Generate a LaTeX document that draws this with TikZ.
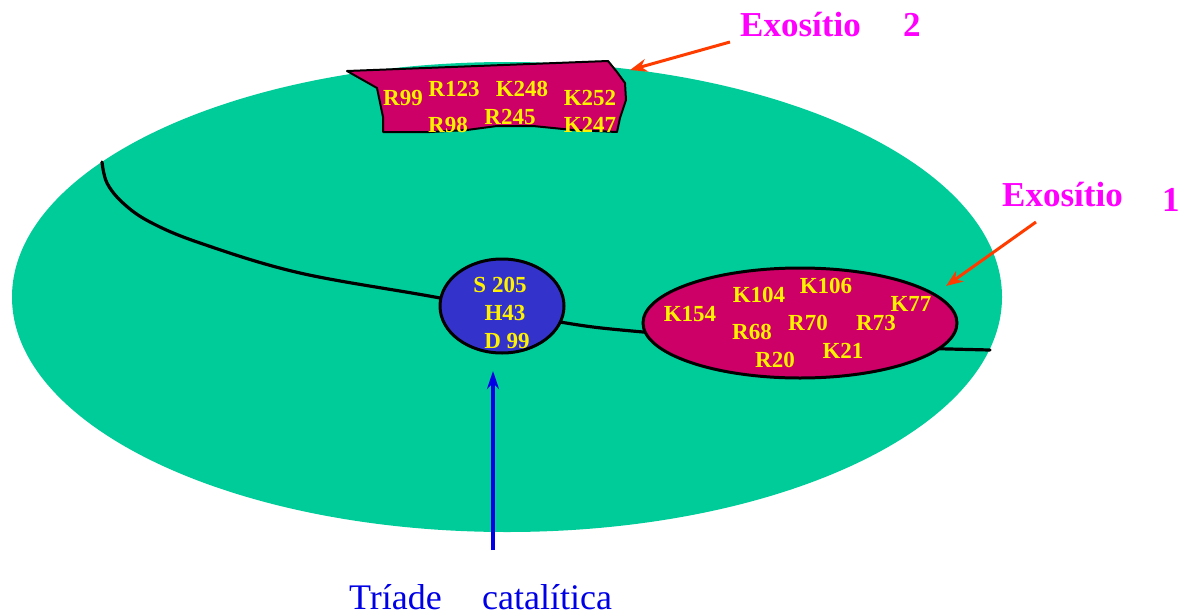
\documentclass[tikz,border=0pt]{standalone}
\usepackage{fontspec}
\setmainfont{Liberation Serif}
\usetikzlibrary{arrows.meta,shapes.geometric}
\definecolor{protein}{RGB}{0,204,153}
\definecolor{siteRed}{RGB}{204,0,102}
\definecolor{triadBlue}{RGB}{51,51,204}
\definecolor{labelMagenta}{RGB}{255,0,255}
\definecolor{pointerRed}{RGB}{255,60,0}
\definecolor{captionBlue}{RGB}{0,0,230}
\tikzset{
  residue/.style={text=yellow, font=\bfseries\fontsize{23}{23}\selectfont, inner sep=0pt},
  sitelabel/.style={text=labelMagenta, font=\bfseries\fontsize{35}{35}\selectfont, inner sep=0pt, anchor=base west},
  caption/.style={text=captionBlue, font=\fontsize{36}{36}\selectfont, inner sep=0pt, anchor=base west},
  outline/.style={draw=black, line width=3pt},
  pointer/.style={draw=pointerRed, line width=3pt, -{Stealth[length=17pt,width=13pt]}},
  triadarrow/.style={draw=captionBlue, line width=4pt, -{Stealth[length=18pt,width=12pt]}},
}
\begin{document}
\begin{tikzpicture}[x=1pt,y=-1pt]
\useasboundingbox (0,0) rectangle (1192,616);

% protein body
\fill[protein] (507,297) ellipse [x radius=495, y radius=235];

% backbone chain running through the molecule
\coordinate (c0) at (102,162);
\coordinate (c1) at (107,183);
\coordinate (c2) at (123,203);
\coordinate (c3) at (150,222);
\coordinate (c4) at (200,243);
\coordinate (c5) at (300,273);
\coordinate (c6) at (440,298);
\coordinate (c7) at (560,322);
\coordinate (c8) at (643,332);
\coordinate (c9) at (800,344);
\coordinate (c10) at (990,350);
\draw[black, line width=3.2pt, line cap=round]
  plot[smooth, tension=0.6] coordinates {(c0) (c1) (c2) (c3) (c4) (c5) (c6) (c7) (c8) (c9) (c10)};

% exosite 2 patch
\filldraw[fill=siteRed, draw=black, line width=2pt, line join=round]
  (347,71) -- (608,61) -- (617,72) -- (625,83) -- (626,100) -- (620,118) -- (617,132)
  -- (573,130) -- (533,126) -- (497,126) -- (467,130) -- (430,132) -- (383,132)
  -- (383,117) -- (377,88) -- cycle;

% catalytic triad and exosite 1
\node[outline, fill=triadBlue, ellipse, minimum width=124pt, minimum height=94pt, inner sep=0pt] (triad) at (502,306) {};
\node[outline, fill=siteRed, ellipse, minimum width=314pt, minimum height=110pt, inner sep=0pt] (exo1) at (800,323) {};

% exosite 2 residues
\node[residue] (r99) at (403,98) {R99};
\node[residue] (r123) at (454,89) {R123};
\node[residue] (k248) at (522,89) {K248};
\node[residue] (k252) at (590,98) {K252};
\node[residue] (r98) at (448,125) {R98};
\node[residue] (r245) at (510,117) {R245};
\node[residue] (k247) at (590,125) {K247};

% exosite 1 residues
\node[residue] (k154) at (690,314) {K154};
\node[residue] (k104) at (759,295) {K104};
\node[residue] (k106) at (826,286) {K106};
\node[residue] (k77) at (911,304) {K77};
\node[residue] (r68) at (752,332) {R68};
\node[residue] (r70) at (808,323) {R70};
\node[residue] (r73) at (876,323) {R73};
\node[residue] (r20) at (775,360) {R20};
\node[residue] (k21) at (843,351) {K21};

% triad residues
\node[residue] (s205) at (500,285) {S 205};
\node[residue] (h43) at (505,313) {H43};
\node[residue] (d99) at (507,341) {D 99};

% site labels
\node[sitelabel] (exo2txt) at (740,36) {Exosítio};
\node[sitelabel] (exo2num) at (903,36) {2};
\node[sitelabel] (exo1txt) at (1002,206) {Exosítio};
\node[sitelabel] (exo1num) at (1162,211) {1};

% pointers to the exosites
\coordinate (p2tail) at (730,42);
\coordinate (p2tip) at (630,70);
\coordinate (p1tail) at (1036,222);
\coordinate (p1tip) at (946,286);
\draw[pointer] (p2tail) -- (p2tip);
\draw[pointer] (p1tail) -- (p1tip);

% catalytic triad caption and arrow
\node[caption] (triade) at (349,609) {Tríade};
\node[caption] (catal) at (482,609) {catalítica};
\coordinate (tailT) at (493,550);
\coordinate (tipT) at (493,371);
\draw[triadarrow] (tailT) -- (tipT);
\end{tikzpicture}
\end{document}
